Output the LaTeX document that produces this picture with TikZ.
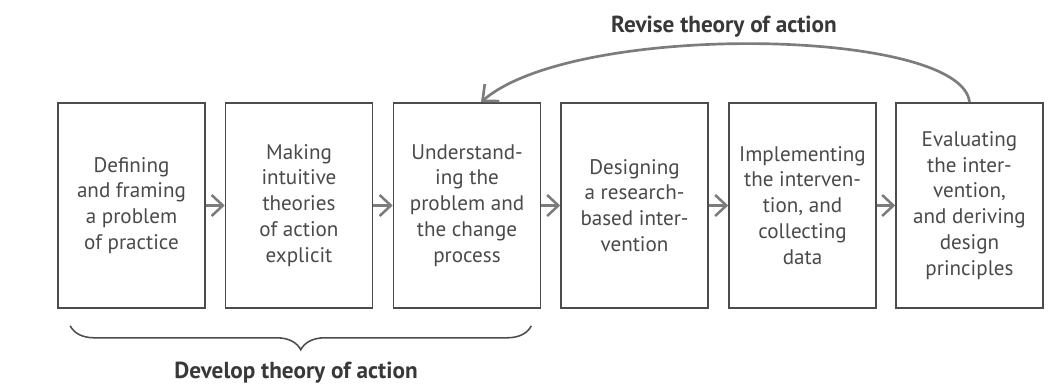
\documentclass[tikz,border=0pt]{standalone}
\usepackage{fontspec}
\setmainfont{PT Sans}
\usepackage{tikz}
\usetikzlibrary{positioning, arrows.meta, decorations.pathreplacing}

\definecolor{boxline}{HTML}{4C4C4C}
\definecolor{boxtext}{HTML}{4A4A4A}
\definecolor{flowgray}{HTML}{7C7C7C}
\definecolor{labeltext}{HTML}{383838}

\begin{document}
\begin{tikzpicture}[x=0.025cm, y=0.025cm,
  stage/.style={shape=rectangle, draw=boxline, line width=1.1pt, fill=white,
    minimum width=3.675cm, minimum height=5.125cm, inner sep=0pt,
    align=center, text=boxtext, font=\fontsize{15}{18.4}\selectfont},
  flow/.style={draw=flowgray, line width=1.8pt, -{Straight Barb[length=8pt, width=15pt]}},
  revise/.style={draw=flowgray, line width=1.9pt, -{Straight Barb[length=9pt, width=16pt]}},
  brace/.style={draw=boxline, line width=1.1pt, decorate, decoration={brace, mirror, amplitude=0.6cm}},
  caption/.style={text=labeltext, font=\bfseries\fontsize{16.5}{19}\selectfont}]
  \useasboundingbox (0,0) rectangle (1063,389);

  \node[stage] (s1) at (131.5,183.5) {Defining\\and framing\\a problem\\of practice};
  \node[stage] (s2) at (299,183.5) {Making\\intuitive\\theories\\of action\\explicit};
  \node[stage] (s3) at (467,183.5) {Understand-\\ing the\\problem and\\the change\\process};
  \node[stage] (s4) at (634.5,183.5) {Designing\\a research-\\based inter-\\vention};
  \node[stage] (s5) at (802.5,183.5) {Implementing\\the interven-\\tion, and\\collecting\\data};
  \node[stage] (s6) at (969.5,183.5) {Evaluating\\the inter-\\vention,\\and deriving\\design\\principles};

  \path [flow] (s1) edge (s2);
  \path [flow] (s2) edge (s3);
  \path [flow] (s3) edge (s4);
  \path [flow] (s4) edge (s5);
  \path [flow] (s5) edge (s6);

  % loop back
  \draw[revise] (s6.north) .. controls (962,361) and (575,368) .. ([shift={(14,0)}]s3.north);
  \node[caption] (rev) at (724,362) {Revise theory of action};

  % brace under the first three
  \draw[brace] ([shift={(13,-17)}]s1.south west) -- ([shift={(-10,-17)}]s3.south east);
  \node[caption] (dev) at (296,16) {Develop theory of action};

\end{tikzpicture}
\end{document}
